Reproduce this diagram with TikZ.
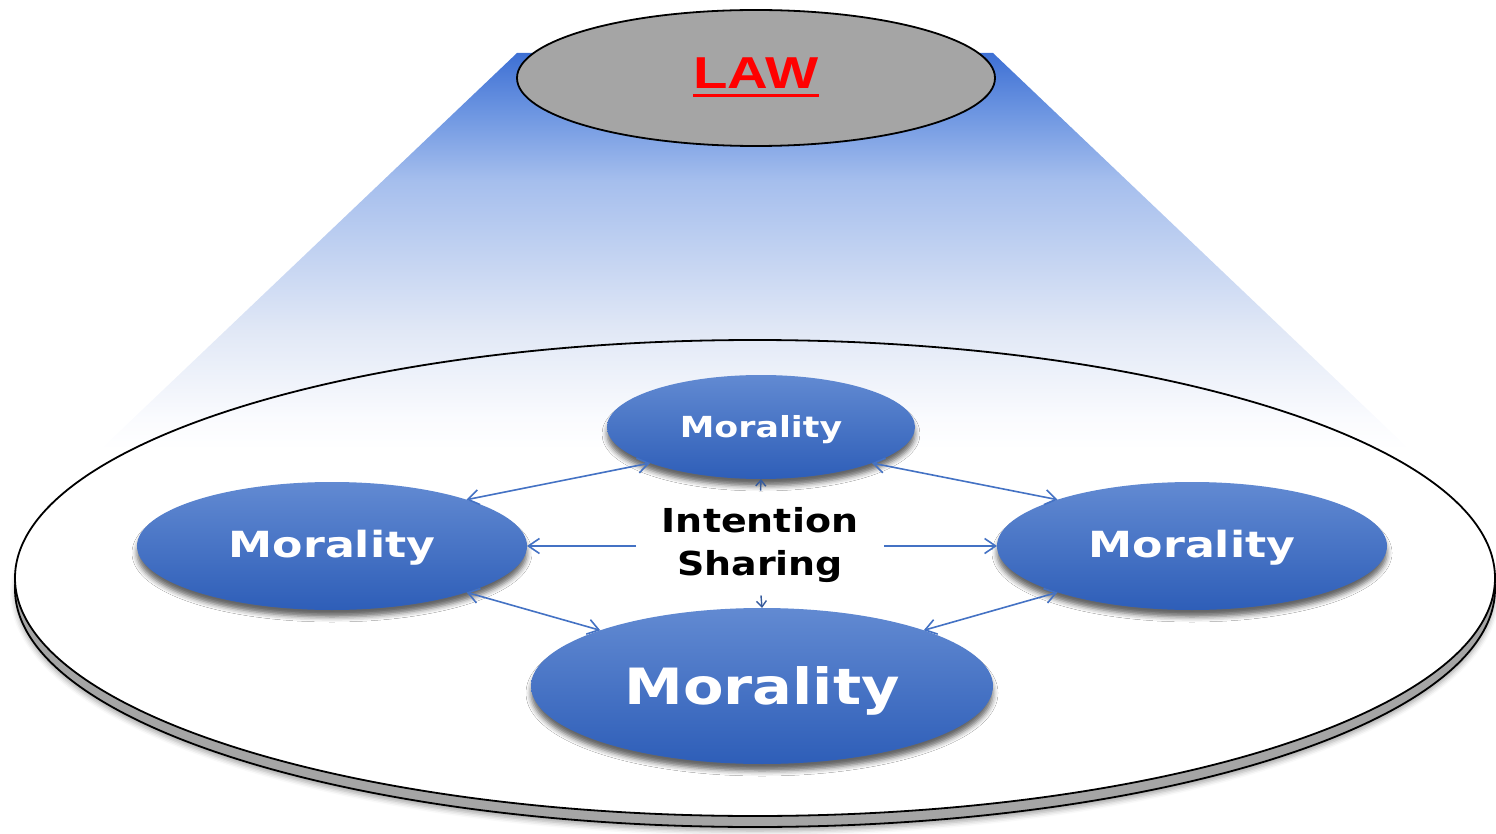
\documentclass[tikz,border=0pt]{standalone}
\usepackage{fontspec}
\setmainfont{DejaVu Sans}
\newfontfamily\lawfont{Liberation Sans}
\usetikzlibrary{shapes.geometric,arrows.meta,shadows.blur}
\definecolor{c0}{RGB}{62,112,212}
\definecolor{c1}{RGB}{112,152,226}
\definecolor{c2}{RGB}{165,190,237}
\definecolor{c3}{RGB}{225,232,246}
\definecolor{c4}{RGB}{250,251,254}
\definecolor{mtop}{RGB}{98,138,210}
\definecolor{mbot}{RGB}{46,94,184}
\definecolor{abl}{RGB}{68,114,196}
\definecolor{lawgray}{RGB}{165,165,165}
\definecolor{lawred}{RGB}{255,0,0}
\pgfdeclareverticalshading{conesh}{100bp}{color(0bp)=(white); color(25bp)=(white); color(29bp)=(c4); color(40bp)=(c3); color(59bp)=(c2); color(67bp)=(c1); color(75bp)=(c0); color(100bp)=(c0)}
\newcommand\wid[2]{\scalebox{#1}[1]{#2}}
\newcommand\lawul[1]{\setbox0\hbox{#1}\rlap{\copy0}\raisebox{-8.5pt}{\rule{\wd0}{3pt}}}
\begin{document}
\begin{tikzpicture}[x=1pt,y=-1pt,
  every node/.style={inner sep=0pt, outer sep=0pt},
  diskst/.style={ellipse, minimum width=1480pt, minimum height=476pt},
  mor/.style={ellipse, top color=mtop, bottom color=mbot, draw=none, text=white,
    blur shadow={shadow xshift=0pt, shadow yshift=-7pt, shadow blur radius=5pt, shadow opacity=60}},
  arrboth/.style={draw=abl, line width=1.6pt, {Straight Barb[length=11pt,width=15pt]}-{Straight Barb[length=11pt,width=15pt]}},
  arrone/.style={draw=abl, line width=1.6pt, -{Straight Barb[length=11pt,width=15pt]}},
  arrtiny/.style={draw=abl!80!black, line width=1.4pt, -{Straight Barb[length=6pt,width=10pt]}}
]
\useasboundingbox (0,0) rectangle (1496,834);
% base disk
\node[diskst, fill=lawgray, draw=black, line width=1.8pt,
  blur shadow={shadow xshift=0pt, shadow yshift=-4pt, shadow blur radius=5pt, shadow opacity=35}] (base) at (755,589) {};
\node[diskst, fill=white] (disk) at (755,578) {};
% cone of light
\path[shading=conesh] (517,53) -- (993,53) -- (1410,450) -- (100,450) -- cycle;
\draw[line width=1.8pt] (disk.center) ellipse [x radius=740pt, y radius=238pt];
% LAW
\node[ellipse, minimum width=478pt, minimum height=136pt, fill=lawgray, draw=black, line width=1.8pt,
  text=lawred, text height=22pt, text depth=0pt,
  font=\lawfont\bfseries\fontsize{44.7pt}{50pt}\selectfont] (law) at (756,78) {\wid{1.26}{\lawul{LAW}}};
% Morality nodes
\node[mor, minimum width=308pt, minimum height=104pt, text height=20pt, text depth=0pt,
  font=\bfseries\fontsize{29pt}{34pt}\selectfont] (top) at (761,427) {\wid{1.2}{Morality}};
\node[mor, minimum width=390pt, minimum height=128pt, text height=22pt, text depth=0pt,
  font=\bfseries\fontsize{36pt}{42pt}\selectfont] (left) at (332,546) {\wid{1.23}{Morality}};
\node[mor, minimum width=390pt, minimum height=128pt, text height=22pt, text depth=0pt,
  font=\bfseries\fontsize{36pt}{42pt}\selectfont] (right) at (1192,546) {\wid{1.23}{Morality}};
\node[mor, minimum width=462pt, minimum height=156pt, text height=36pt, text depth=0pt,
  font=\bfseries\fontsize{50pt}{58pt}\selectfont] (bottom) at (762,686) {\wid{1.18}{Morality}};
% centre text
\node[align=center, minimum width=248pt, text height=67pt, text depth=8pt,
  font=\bfseries\fontsize{33pt}{43pt}\selectfont] (is) at (760,546) {\wid{1.15}{Intention}\\\wid{1.15}{Sharing}};
% connectors
\draw[arrboth] (top.198) -- (left.19);
\draw[arrboth] (top.342) -- (right.161);
\draw[arrboth] (left.341) -- (bottom.161);
\draw[arrboth] (right.199) -- (bottom.19);
\draw[arrone] (is.west) -- (left.east);
\draw[arrone] (is.east) -- (right.west);
\draw[arrtiny, shorten <=18pt] (is.north) -- (top.south);
\draw[arrtiny, shorten <=12pt] (is.south) -- (bottom.north);
\end{tikzpicture}
\end{document}
